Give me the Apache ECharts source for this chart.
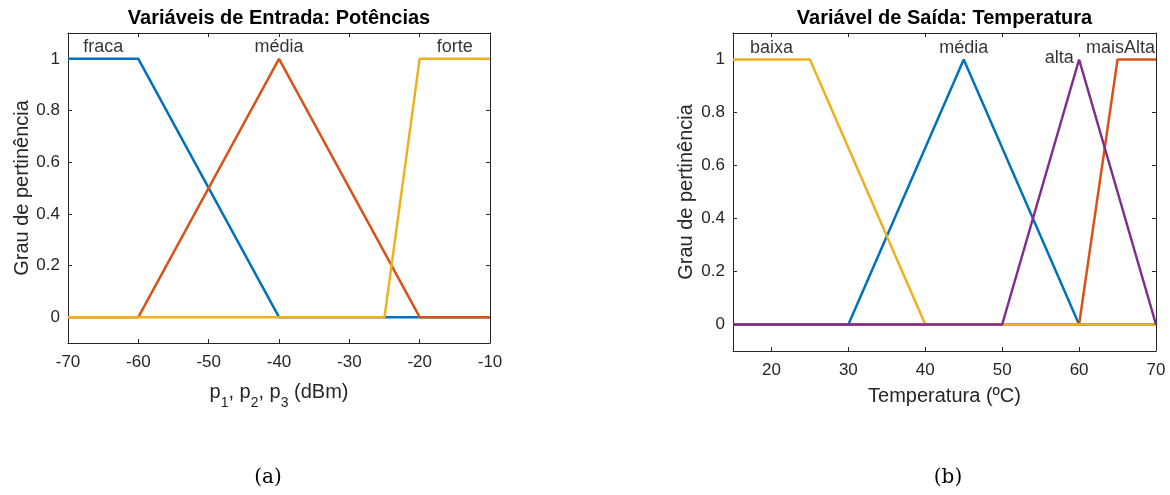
<!DOCTYPE html>
<html>
<head>
<meta charset="utf-8">
<script src="https://cdn.jsdelivr.net/npm/echarts@6/dist/echarts.min.js"></script>
<style>
  html, body { margin: 0; padding: 0; background: #fff; }
  #chart { width: 1170px; height: 495px; }
</style>
</head>
<body>
<div id="chart"></div>
<script>
// Input variable: power levels (dBm), membership functions
const inX = [-70, -10];
const fracaX = [-70, -60, -40, -10];
const fracaY = [1, 1, 0, 0];
const mediaInX = [-70, -60, -40, -20, -10];
const mediaInY = [0, 0, 1, 0, 0];
const forteX = [-70, -25, -20, -10];
const forteY = [0, 0, 1, 1];

// Output variable: temperature (ºC), membership functions
const outX = [15, 70];
const baixaX = [15, 25, 40, 70];
const baixaY = [1, 1, 0, 0];
const mediaOutX = [15, 30, 45, 60, 70];
const mediaOutY = [0, 0, 1, 0, 0];
const altaX = [15, 50, 60, 70];
const altaY = [0, 0, 1, 0];
const maisAltaX = [15, 60, 65, 70];
const maisAltaY = [0, 0, 1, 1];

// Tick values
const inTicks = [-70, -60, -50, -40, -30, -20, -10];
const outTicks = [20, 30, 40, 50, 60, 70];
const yTicks = [0, 0.2, 0.4, 0.6, 0.8, 1];
const yRange = [-0.1, 1.1];

// Names of the membership functions and where their labels sit
const inNames = ['fraca', 'média', 'forte'];
const inNameX = [-65, -40, -15];
const inNameY = [1.045, 1.045, 1.045];
const outNames = ['baixa', 'média', 'alta', 'maisAlta'];
const outNameX = [20, 45, 59.3, 65.4];
const outNameY = [1.045, 1.045, 1.004, 1.045];
const outNameAlign = ['center', 'center', 'right', 'center'];

const C_BLUE = '#0072BD', C_ORANGE = '#D95319', C_YELLOW = '#EDB120', C_PURPLE = '#7E2F8E';
const AX = '#262626';
const FONT = '"Liberation Sans", Arial, Helvetica, sans-serif';

const pts = (xs, ys) => xs.map((x, i) => [x, ys[i]]);

function mfLine(xi, yi, xs, ys, color) {
  return {
    type: 'line', xAxisIndex: xi, yAxisIndex: yi,
    data: pts(xs, ys), symbol: 'none', silent: true,
    lineStyle: { color: color, width: 2.5 }, z: 3
  };
}

function nameSeries(xi, yi, names, xs, ys, aligns) {
  return {
    type: 'scatter', xAxisIndex: xi, yAxisIndex: yi, silent: true,
    symbolSize: 1, itemStyle: { color: 'rgba(0,0,0,0)' }, z: 5,
    data: names.map((n, i) => ({
      value: [xs[i], ys[i]], name: n,
      label: { align: aligns ? aligns[i] : 'center' }
    })),
    label: {
      show: true, position: 'inside', formatter: p => p.name,
      color: '#000', fontFamily: FONT, fontSize: 18, verticalAlign: 'middle'
    }
  };
}

function boxAxisX(grid, pos, range, ticks, showLabels, name, nameGap, nameStyle) {
  const ax = {
    type: 'value', gridIndex: grid, position: pos, min: range[0], max: range[1],
    axisLine: { show: true, onZero: false, lineStyle: { color: AX, width: 1 } },
    axisTick: { show: true, inside: true, length: 4, customValues: ticks, lineStyle: { color: AX } },
    axisLabel: { show: showLabels, customValues: ticks, color: AX, fontFamily: FONT, fontSize: 17, margin: 11 },
    splitLine: { show: false }
  };
  if (name) {
    ax.name = name; ax.nameLocation = 'middle'; ax.nameGap = nameGap;
    ax.nameTextStyle = nameStyle;
  }
  return ax;
}

function boxAxisY(grid, pos, showLabels, name, nameGap) {
  const ax = {
    type: 'value', gridIndex: grid, position: pos, min: yRange[0], max: yRange[1],
    axisLine: { show: true, onZero: false, lineStyle: { color: AX, width: 1 } },
    axisTick: { show: true, inside: true, length: 4, customValues: yTicks, lineStyle: { color: AX } },
    axisLabel: { show: showLabels, customValues: yTicks, color: AX, fontFamily: FONT, fontSize: 17, margin: 8 },
    splitLine: { show: false }
  };
  if (name) {
    ax.name = name; ax.nameLocation = 'middle'; ax.nameGap = nameGap;
    ax.nameTextStyle = { color: AX, fontFamily: FONT, fontSize: 20 };
  }
  return ax;
}

const titleStyle = { color: '#000', fontFamily: FONT, fontSize: 20, fontWeight: 'bold' };
const subRich = {
  a: { color: AX, fontFamily: FONT, fontSize: 20, lineHeight: 24 },
  s: { color: AX, fontFamily: FONT, fontSize: 14, lineHeight: 14, padding: [20, 0, 0, 0] }
};
const captionFont = '20px "DejaVu Serif", "Liberation Serif", serif';

const option = {
  animation: false,
  backgroundColor: '#fff',
  grid: [
    { left: 68, top: 33, width: 422, height: 310 },
    { left: 733, top: 33, width: 423, height: 318 }
  ],
  xAxis: [
    boxAxisX(0, 'bottom', inX, inTicks, true,
      '{a|p}{s|1}{a|, p}{s|2}{a|, p}{s|3}{a| (dBm)}', 28, { rich: subRich }),
    boxAxisX(0, 'top', inX, inTicks, false,
      'Variáveis de Entrada: Potências', 5, titleStyle),
    boxAxisX(1, 'bottom', outX, outTicks, true,
      'Temperatura (ºC)', 35, { color: AX, fontFamily: FONT, fontSize: 20 }),
    boxAxisX(1, 'top', outX, outTicks, false,
      'Variável de Saída: Temperatura', 5, titleStyle)
  ],
  yAxis: [
    boxAxisY(0, 'left', true, 'Grau de pertinência', 35),
    boxAxisY(0, 'right', false),
    boxAxisY(1, 'left', true, 'Grau de pertinência', 37),
    boxAxisY(1, 'right', false)
  ],
  series: [
    mfLine(0, 0, fracaX, fracaY, C_BLUE),
    mfLine(0, 0, mediaInX, mediaInY, C_ORANGE),
    mfLine(0, 0, forteX, forteY, C_YELLOW),
    nameSeries(0, 0, inNames, inNameX, inNameY),
    mfLine(2, 2, mediaOutX, mediaOutY, C_BLUE),
    mfLine(2, 2, maisAltaX, maisAltaY, C_ORANGE),
    mfLine(2, 2, baixaX, baixaY, C_YELLOW),
    mfLine(2, 2, altaX, altaY, C_PURPLE),
    nameSeries(2, 2, outNames, outNameX, outNameY, outNameAlign)
  ],
  graphic: [
    { type: 'text', x: 268, y: 478, silent: true,
      style: { text: '(a)', font: captionFont, fill: '#000', align: 'center', verticalAlign: 'middle' } },
    { type: 'text', x: 948, y: 478, silent: true,
      style: { text: '(b)', font: captionFont, fill: '#000', align: 'center', verticalAlign: 'middle' } }
  ]
};

const chart = echarts.init(document.getElementById('chart'), null, { renderer: 'canvas' });
chart.setOption(option);
</script>
</body>
</html>
